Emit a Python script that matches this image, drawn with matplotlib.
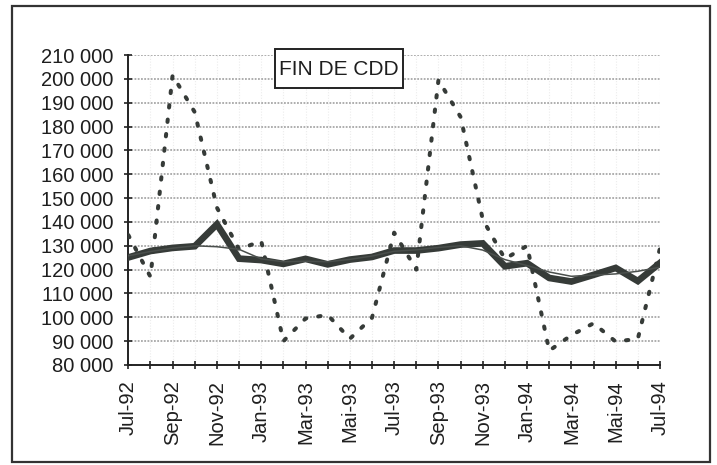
import matplotlib
matplotlib.use("Agg")
import matplotlib.pyplot as plt
from matplotlib.patches import Rectangle
import numpy as np

months = ["Jul-92", "Aug-92", "Sep-92", "Oct-92", "Nov-92", "Dec-92",
          "Jan-93", "Feb-93", "Mar-93", "Apr-93", "Mai-93", "Jun-93",
          "Jul-93", "Aug-93", "Sep-93", "Oct-93", "Nov-93", "Dec-93",
          "Jan-94", "Feb-94", "Mar-94", "Apr-94", "Mai-94", "Jun-94", "Jul-94"]
tick_labels = ["Jul-92", "", "Sep-92", "", "Nov-92", "", "Jan-93", "", "Mar-93", "",
               "Mai-93", "", "Jul-93", "", "Sep-93", "", "Nov-93", "", "Jan-94", "",
               "Mar-94", "", "Mai-94", "", "Jul-94"]

brut = [134500, 117000, 201500, 186000, 146000, 128500, 132000, 90000, 99500, 101000,
        91000, 99800, 135500, 120000, 199500, 184000, 141000, 124500, 130000, 86000,
        92500, 97500, 89800, 91000, 129000]
cvs = [125100, 127800, 129100, 129800, 139000, 124600, 124000, 122400, 124500, 122200,
       124200, 125300, 128000, 128000, 129000, 130500, 131000, 121400, 122700, 116500,
       115000, 117800, 120700, 115200, 122800]
tendance = [125800, 127600, 129000, 130000, 129600, 128500, 124500, 123300, 123500, 123300,
            124300, 125700, 127700, 128300, 129300, 130000, 128200, 124200, 121700, 119000,
            117200, 117700, 118200, 119300, 121000]

yticks = list(range(80000, 210001, 10000))
ytick_labels = [f"{v:,}".replace(",", " ") for v in yticks]

plt.rcParams['font.family'] = ['Liberation Sans', 'DejaVu Sans']

W, H = 717, 465
fig = plt.figure(figsize=(W / 100, H / 100), dpi=100)
ax = fig.add_axes([128.3 / W, 1 - 365 / H, (660 - 128.3) / W, (365 - 55) / H])

x = np.arange(len(months))
line_col = "#363b38"
ax.plot(x, brut, color=line_col, lw=2.9, dashes=(0.6, 3.0), dash_capstyle="round", zorder=3)
ax.plot(x, cvs, color=line_col, lw=4.8, solid_joinstyle="miter", zorder=4)
ax.plot(x, tendance, color="#4a4f4c", lw=1.1, zorder=5)

ax.set_xlim(0, len(months) - 1)
ax.set_ylim(80000, 210000)
ax.set_yticks(yticks)
ax.set_yticklabels(ytick_labels, fontsize=14.5, color="#1e1e1e")
ax.set_xticks(x)
ax.set_xticklabels(tick_labels, rotation=90, fontsize=14.5, color="#1e1e1e")

for v in yticks[1:]:
    ax.axhline(v, color="#a8a8a8", lw=1.3, ls=(0, (1, 0.8)), zorder=1)
for xi in x[1:]:
    ax.axvline(xi, color="#ececec", lw=0.8, ls=(0, (1, 1.5)), zorder=0)

for s in ["top", "right"]:
    ax.spines[s].set_visible(False)
for s in ["left", "bottom"]:
    ax.spines[s].set_color("#222222")
    ax.spines[s].set_linewidth(1.4)
ax.tick_params(axis="both", direction="inout", length=6, width=1.2, color="#222222")
ax.tick_params(axis="y", pad=8)
ax.tick_params(axis="x", pad=8)

# title box
fig.patches.append(Rectangle((275 / W, 1 - 88.3 / H), 128.3 / W, 39 / H,
                             transform=fig.transFigure, facecolor="white",
                             edgecolor="#222222", lw=1.4, zorder=10))
fig.text(339 / W, 1 - 69 / H, "FIN DE CDD", fontsize=15, ha="center", va="center",
         color="#1e1e1e", zorder=11)

# outer frame
fig.patches.append(Rectangle((12 / W, 1 - 462 / H), (710 - 12) / W, (462 - 6) / H,
                             transform=fig.transFigure, facecolor="none",
                             edgecolor="#333333", lw=1.6))

fig.savefig("out.png", dpi=100)
